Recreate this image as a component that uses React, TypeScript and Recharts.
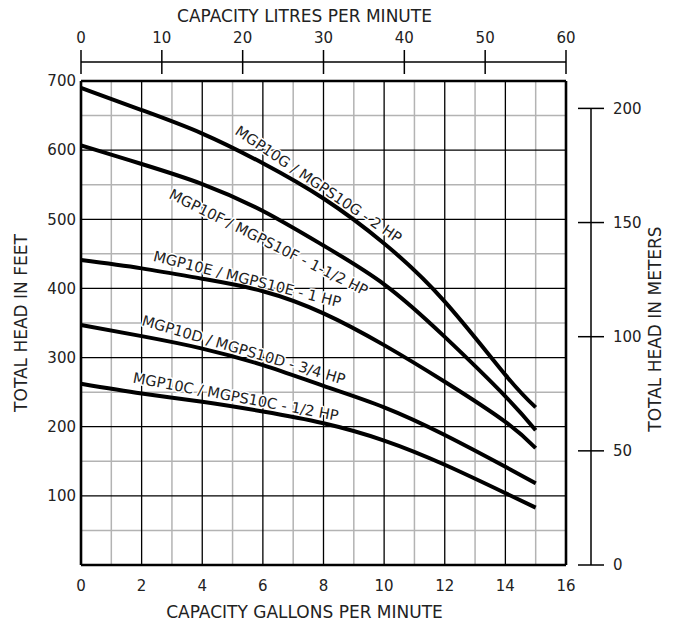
import React from 'react';
import { LineChart, Line, XAxis, YAxis, CartesianGrid, ReferenceDot } from 'recharts';

// Capacity (US gallons per minute) at which each head value was read
const GPM = [0, 2, 4, 6, 8, 10, 12, 14, 15];
// Total head in feet for each pump model
const HEAD_10G = [690, 658, 624, 581, 530, 465, 381, 275, 228];
const HEAD_10F = [607, 580, 551, 512, 462, 406, 330, 244, 195];
const HEAD_10E = [441, 429, 414, 396, 364, 318, 265, 207, 169];
const HEAD_10D = [347, 331, 313, 289, 259, 228, 188, 142, 118];
const HEAD_10C = [262, 248, 236, 222, 205, 180, 145, 104, 83];

const GPM_TICKS = [0, 2, 4, 6, 8, 10, 12, 14, 16];
const LPM_TICKS = [0, 10, 20, 30, 40, 50, 60];
const FEET_TICKS = [100, 200, 300, 400, 500, 600, 700];
const METER_TICKS = [0, 50, 100, 150, 200];

const GRID_MINOR_GPM = [1, 3, 5, 7, 9, 11, 13, 15];
const GRID_MAJOR_GPM = [2, 4, 6, 8, 10, 12, 14];
const GRID_MINOR_FT = [50, 150, 250, 350, 450, 550, 650];
const GRID_MAJOR_FT = [100, 200, 300, 400, 500, 600];
const GRID_EDGE_GPM = [0, 16];
const GRID_EDGE_FT = [0, 700];

const GPM_DOMAIN = [0, 16];
const FT_DOMAIN = [0, 700];
const LPM_DOMAIN = [0, 60];
const M_DOMAIN = [0, 212];

const CURVE_LABELS = [
  { text: 'MGP10G / MGPS10G - 2 HP', gpm: 5.05, ft: 624, angle: 34 },
  { text: 'MGP10F / MGPS10F - 1-1/2 HP', gpm: 2.87, ft: 531, angle: 26.5 },
  { text: 'MGP10E / MGPS10E - 1 HP', gpm: 2.36, ft: 440, angle: 14 },
  { text: 'MGP10D / MGPS10D - 3/4 HP', gpm: 1.98, ft: 347, angle: 16.4 },
  { text: 'MGP10C / MGPS10C - 1/2 HP', gpm: 1.69, ft: 264, angle: 10.6 },
];

const SERIES = [
  { key: 'g', values: HEAD_10G },
  { key: 'f', values: HEAD_10F },
  { key: 'e', values: HEAD_10E },
  { key: 'd', values: HEAD_10D },
  { key: 'c', values: HEAD_10C },
];

const data = GPM.map((gpm, i) => {
  const row: Record<string, number> = { gpm };
  SERIES.forEach((s) => {
    row[s.key] = s.values[i];
  });
  return row;
});

const FONT = "'DejaVu Sans', sans-serif";
const TEXT_COLOR = '#222';

const TopTick = (props: any) => {
  const { x, y, payload, index, width } = props;
  const w = typeof width === 'number' ? width : 485;
  return (
    <g>
      {index === 0 && (
        <line x1={x} x2={x + w} y1={y - 19} y2={y - 19} stroke="#000" strokeWidth={1.5} />
      )}
      <line x1={x} x2={x} y1={y - 31} y2={y - 7} stroke="#000" strokeWidth={1.5} />
      <text x={x} y={y - 38} textAnchor="middle" fontSize={15} fontFamily={FONT} fill={TEXT_COLOR}>
        {payload.value}
      </text>
    </g>
  );
};

const RightTick = (props: any) => {
  const { x, y, payload, height } = props;
  const h = typeof height === 'number' ? height : 484;
  const isTop = payload.value === METER_TICKS[METER_TICKS.length - 1];
  return (
    <g>
      {isTop && (
        <line
          x1={x + 25}
          x2={x + 25}
          y1={y}
          y2={y + (h * payload.value) / M_DOMAIN[1]}
          stroke="#000"
          strokeWidth={1.5}
        />
      )}
      <line x1={x + 12} x2={x + 38} y1={y} y2={y} stroke="#000" strokeWidth={1.5} />
      <text x={x + 47} y={y} dy="0.36em" textAnchor="start" fontSize={15} fontFamily={FONT} fill={TEXT_COLOR}>
        {payload.value}
      </text>
    </g>
  );
};

const makeLabelShape = (text: string, angle: number) => (props: any) => {
  const { cx, cy } = props;
  return (
    <text
      x={cx}
      y={cy}
      transform={`rotate(${angle} ${cx} ${cy})`}
      fontSize={14.6}
      fontFamily={FONT}
      fill={TEXT_COLOR}
      stroke="#fff"
      strokeWidth={3}
      strokeLinejoin="round"
      style={{ paintOrder: 'stroke' }}
    >
      {text}
    </text>
  );
};

export default function App() {
  return (
    <div style={{ position: 'absolute', left: 0, top: 0, width: 678, height: 623, background: '#fff' }}>
      <LineChart width={678} height={623} data={data} margin={{ top: 0, right: 0, bottom: 0, left: 0 }}>
        <CartesianGrid
          horizontalValues={GRID_MINOR_FT}
          verticalValues={GRID_MINOR_GPM}
          stroke="#b3b3b3"
          strokeWidth={1.5}
        />
        <CartesianGrid
          horizontalValues={GRID_MAJOR_FT}
          verticalValues={GRID_MAJOR_GPM}
          stroke="#000"
          strokeWidth={1.3}
        />
        <CartesianGrid
          horizontalValues={GRID_EDGE_FT}
          verticalValues={GRID_EDGE_GPM}
          stroke="#000"
          strokeWidth={2.6}
        />
        <XAxis
          dataKey="gpm"
          type="number"
          domain={GPM_DOMAIN}
          ticks={GPM_TICKS}
          interval={0}
          height={58}
          axisLine={false}
          tickLine={false}
          tickSize={0}
          tickMargin={15}
          tick={{ fontSize: 15, fontFamily: FONT, fill: TEXT_COLOR }}
          label={{
            value: 'CAPACITY GALLONS PER MINUTE',
            position: 'insideBottom',
            offset: 5,
            dx: -19,
            style: { fontSize: 17, fontFamily: FONT, fill: TEXT_COLOR },
          }}
        />
        <XAxis
          xAxisId="lpm"
          dataKey="gpm"
          orientation="top"
          type="number"
          scale="linear"
          domain={LPM_DOMAIN}
          ticks={LPM_TICKS}
          interval={0}
          allowDataOverflow
          height={81}
          axisLine={false}
          tickLine={false}
          tickSize={0}
          tickMargin={0}
          tick={<TopTick />}
          label={{
            value: 'CAPACITY LITRES PER MINUTE',
            position: 'insideTop',
            offset: 10,
            dx: -19,
            style: { fontSize: 17, fontFamily: FONT, fill: TEXT_COLOR },
          }}
        />
        <YAxis
          type="number"
          domain={FT_DOMAIN}
          ticks={FEET_TICKS}
          interval={0}
          width={81}
          axisLine={false}
          tickLine={false}
          tickSize={0}
          tickMargin={5}
          tick={{ fontSize: 15, fontFamily: FONT, fill: TEXT_COLOR }}
          label={{
            value: 'TOTAL HEAD IN FEET',
            angle: -90,
            position: 'insideLeft',
            offset: 21,
            style: { fontSize: 17, fontFamily: FONT, fill: TEXT_COLOR, textAnchor: 'middle' },
          }}
        />
        <YAxis
          yAxisId="m"
          orientation="right"
          type="number"
          domain={M_DOMAIN}
          ticks={METER_TICKS}
          interval={0}
          allowDataOverflow
          width={112}
          axisLine={false}
          tickLine={false}
          tickSize={0}
          tickMargin={0}
          tick={<RightTick />}
          label={{
            value: 'TOTAL HEAD IN METERS',
            angle: -90,
            position: 'insideRight',
            offset: 23,
            dy: 6,
            style: { fontSize: 17, fontFamily: FONT, fill: TEXT_COLOR, textAnchor: 'middle' },
          }}
        />
        {CURVE_LABELS.map((l) => (
          <ReferenceDot
            key={l.text}
            x={l.gpm}
            y={l.ft}
            r={0}
            zIndex={350}
            shape={makeLabelShape(l.text, l.angle)}
          />
        ))}
        {SERIES.map((s) => (
          <Line
            key={s.key}
            dataKey={s.key}
            type="natural"
            stroke="#000"
            strokeWidth={4}
            dot={false}
            activeDot={false}
            isAnimationActive={false}
          />
        ))}
      </LineChart>
    </div>
  );
}
